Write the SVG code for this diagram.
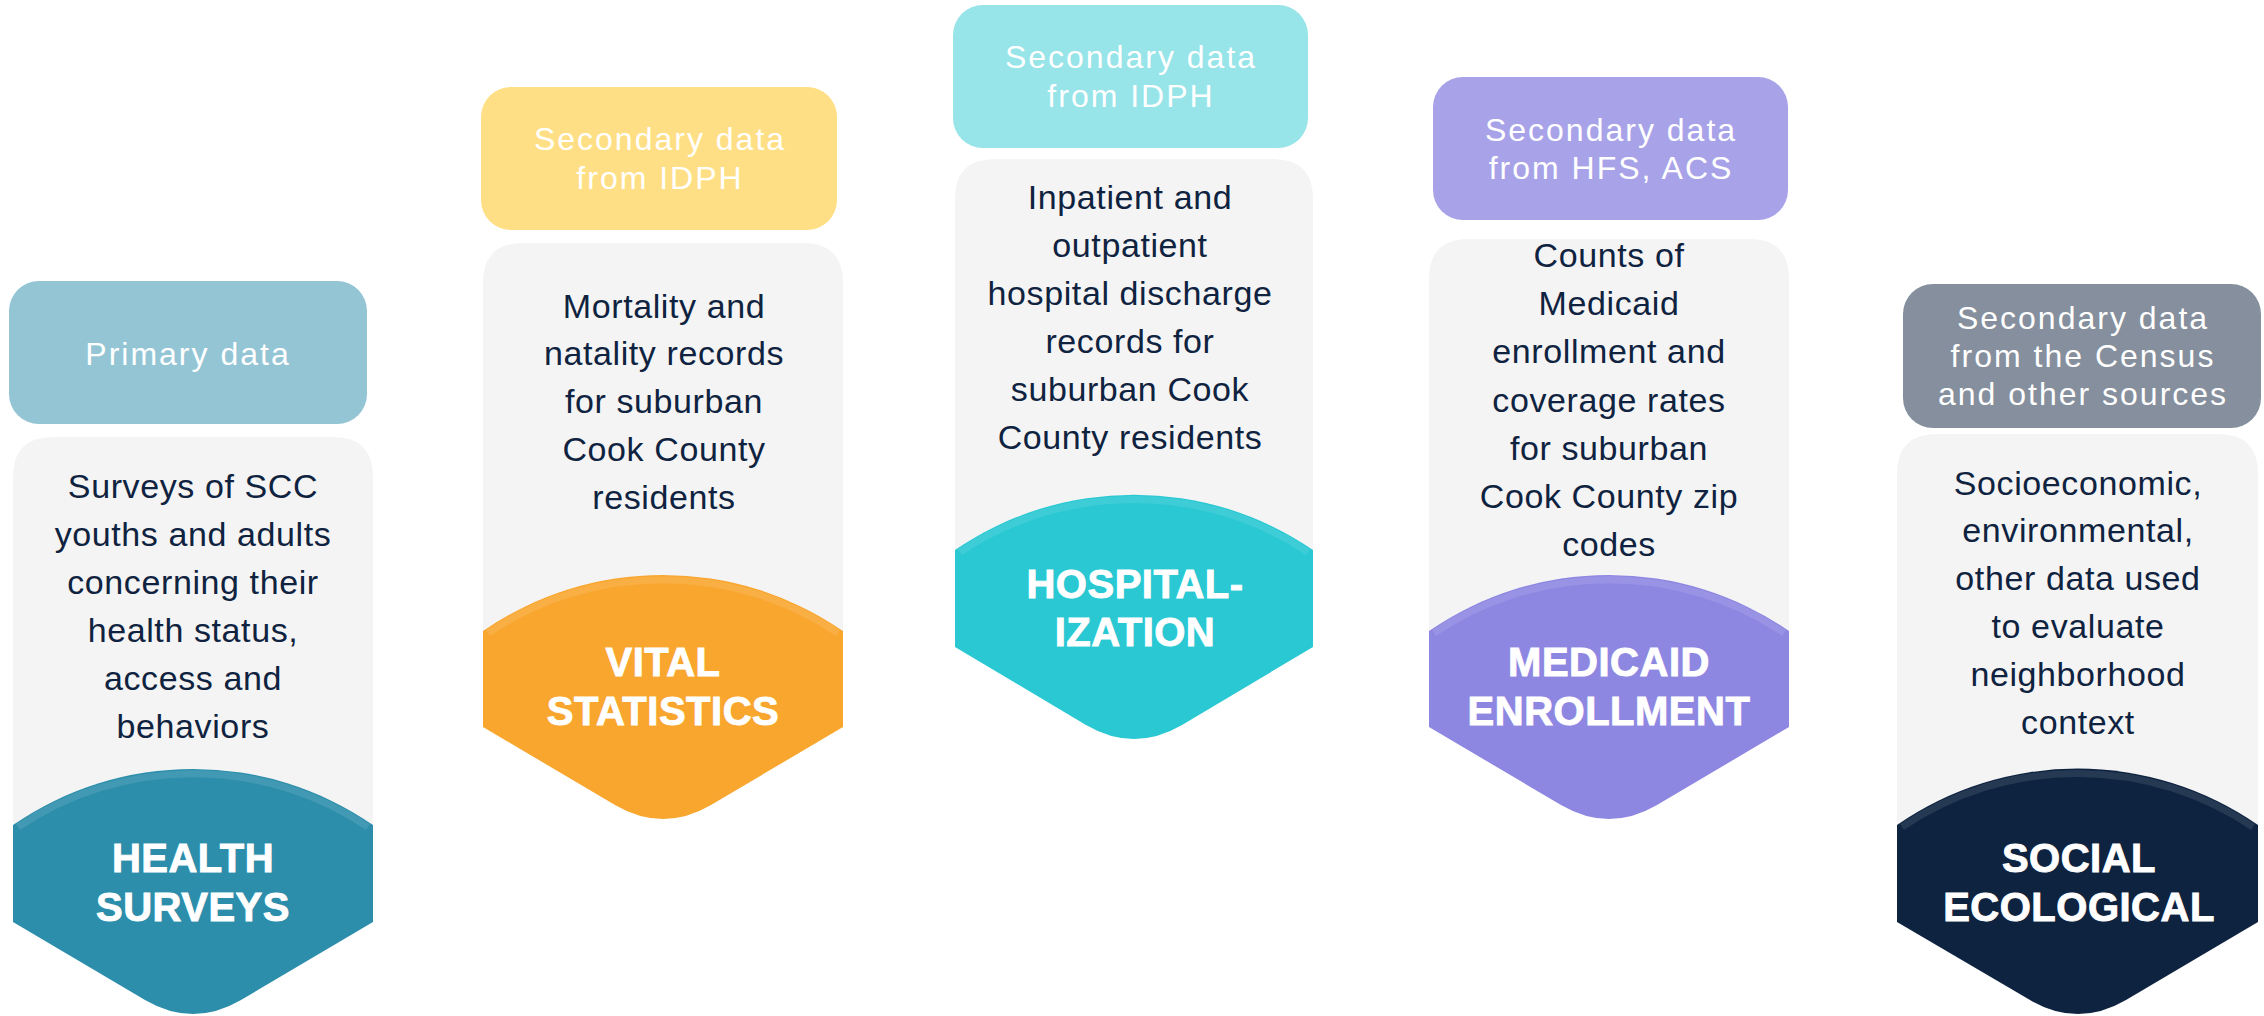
<svg xmlns="http://www.w3.org/2000/svg" width="2264" height="1016" viewBox="0 0 2264 1016">
<style>
.src{font-family:"Liberation Sans",Arial,sans-serif;font-size:32px;fill:#ffffff;letter-spacing:2px;text-anchor:middle}
.body{fill:#f4f4f4}
.desc{font-family:"Liberation Sans",Arial,sans-serif;font-size:34px;fill:#0f2340;letter-spacing:0.6px;text-anchor:middle}
.ttl{font-family:"Liberation Sans",Arial,sans-serif;font-size:40px;font-weight:bold;fill:#ffffff;stroke:#ffffff;stroke-width:0.9;letter-spacing:0.5px;text-anchor:middle}
.sheen{fill:none;stroke:#ffffff;stroke-opacity:0.1;stroke-width:7}
</style>
<rect width="2264" height="1016" fill="#ffffff"/>
<g id="connectors"></g>

<g id="health-surveys">
  <rect x="9" y="281" width="358" height="143" rx="30" fill="#94c5d5"/>
  <text class="src" x="188" y="365">Primary data</text>
  <path class="body" d="M13,477 Q13,437 53,437 L333,437 Q373,437 373,477 L373,840 L13,840 Z"/>
  <text class="desc" x="193" y="498">Surveys of SCC</text>
  <text class="desc" x="193" y="546">youths and adults</text>
  <text class="desc" x="193" y="594">concerning their</text>
  <text class="desc" x="193" y="642">health status,</text>
  <text class="desc" x="193" y="690">access and</text>
  <text class="desc" x="193" y="738">behaviors</text>
  <path d="M13,825 A317,317 0 0 1 373,825 L373,922 L241,1000 Q193,1028 145,1000 L13,922 Z" fill="#2d8eab"/>
  <path class="sheen" d="M18,827 A314,314 0 0 1 368,827"/>
  <text class="ttl" x="193" y="872">HEALTH</text>
  <text class="ttl" x="193" y="921">SURVEYS</text>
</g>

<g id="vital-statistics">
  <rect x="481" y="87" width="356" height="143" rx="30" fill="#ffdf85"/>
  <text class="src" x="660" y="150">Secondary data</text>
  <text class="src" x="660" y="189">from IDPH</text>
  <path class="body" d="M483,283 Q483,243 523,243 L803,243 Q843,243 843,283 L843,645 L483,645 Z"/>
  <text class="desc" x="664" y="318">Mortality and</text>
  <text class="desc" x="664" y="365">natality records</text>
  <text class="desc" x="664" y="413">for suburban</text>
  <text class="desc" x="664" y="461">Cook County</text>
  <text class="desc" x="664" y="509">residents</text>
  <path d="M483,631 A317,317 0 0 1 843,631 L843,727 L711,805 Q663,833 615,805 L483,727 Z" fill="#f9a62f"/>
  <path class="sheen" d="M488,633 A314,314 0 0 1 838,633"/>
  <text class="ttl" x="663" y="676">VITAL</text>
  <text class="ttl" x="663" y="725">STATISTICS</text>
</g>

<g id="hospitalization">
  <rect x="953" y="5" width="355" height="143" rx="30" fill="#97e4e9"/>
  <text class="src" x="1131" y="68">Secondary data</text>
  <text class="src" x="1131" y="107">from IDPH</text>
  <path class="body" d="M955,199 Q955,159 995,159 L1273,159 Q1313,159 1313,199 L1313,565 L955,565 Z"/>
  <text class="desc" x="1130" y="209">Inpatient and</text>
  <text class="desc" x="1130" y="257">outpatient</text>
  <text class="desc" x="1130" y="305">hospital discharge</text>
  <text class="desc" x="1130" y="353">records for</text>
  <text class="desc" x="1130" y="401">suburban Cook</text>
  <text class="desc" x="1130" y="449">County residents</text>
  <path d="M955,550 A317,317 0 0 1 1313,550 L1313,647 L1182,725 Q1134,753 1086,725 L955,647 Z" fill="#29c8d3"/>
  <path class="sheen" d="M960,552 A314,314 0 0 1 1308,552"/>
  <text class="ttl" x="1135" y="598">HOSPITAL-</text>
  <text class="ttl" x="1135" y="646">IZATION</text>
</g>

<g id="medicaid-enrollment">
  <rect x="1433" y="77" width="355" height="143" rx="30" fill="#a8a3e8"/>
  <text class="src" x="1611" y="141">Secondary data</text>
  <text class="src" x="1611" y="179">from HFS, ACS</text>
  <path class="body" d="M1429,279 Q1429,239 1469,239 L1749,239 Q1789,239 1789,279 L1789,645 L1429,645 Z"/>
  <text class="desc" x="1609" y="267">Counts of</text>
  <text class="desc" x="1609" y="315">Medicaid</text>
  <text class="desc" x="1609" y="363">enrollment and</text>
  <text class="desc" x="1609" y="412">coverage rates</text>
  <text class="desc" x="1609" y="460">for suburban</text>
  <text class="desc" x="1609" y="508">Cook County zip</text>
  <text class="desc" x="1609" y="556">codes</text>
  <path d="M1429,631 A317,317 0 0 1 1789,631 L1789,727 L1657,805 Q1609,833 1561,805 L1429,727 Z" fill="#8e87e2"/>
  <path class="sheen" d="M1434,633 A314,314 0 0 1 1784,633"/>
  <text class="ttl" x="1609" y="676">MEDICAID</text>
  <text class="ttl" x="1609" y="725">ENROLLMENT</text>
</g>

<g id="social-ecological">
  <rect x="1903" y="284" width="358" height="144" rx="30" fill="#858f9d"/>
  <text class="src" x="2083" y="329">Secondary data</text>
  <text class="src" x="2083" y="367">from the Census</text>
  <text class="src" x="2083" y="405">and other sources</text>
  <path class="body" d="M1897,474 Q1897,434 1937,434 L2218,434 Q2258,434 2258,474 L2258,840 L1897,840 Z"/>
  <text class="desc" x="2078" y="495">Socioeconomic,</text>
  <text class="desc" x="2078" y="542">environmental,</text>
  <text class="desc" x="2078" y="590">other data used</text>
  <text class="desc" x="2078" y="638">to evaluate</text>
  <text class="desc" x="2078" y="686">neighborhood</text>
  <text class="desc" x="2078" y="734">context</text>
  <path d="M1897,825 A317,317 0 0 1 2258,825 L2258,922 L2126,1000 Q2078,1028 2030,1000 L1897,922 Z" fill="#0e2340"/>
  <path class="sheen" d="M1902,827 A314,314 0 0 1 2253,827"/>
  <text class="ttl" x="2079" y="872">SOCIAL</text>
  <text class="ttl" x="2079" y="921">ECOLOGICAL</text>
</g>
</svg>
